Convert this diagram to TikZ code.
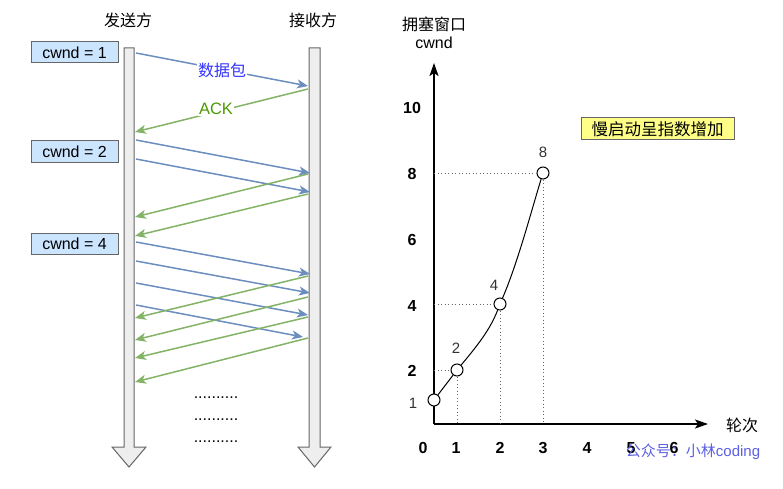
\documentclass[tikz,border=0pt]{standalone}
\usepackage{fontspec}
\setmainfont{Liberation Sans}
\newfontfamily\cjk{Noto Sans CJK SC}
\usetikzlibrary{arrows.meta}
\definecolor{msgblue}{HTML}{6C8EBF}
\definecolor{ackgreen}{HTML}{82B366}
\definecolor{boxblue}{HTML}{CCE5FF}
\definecolor{labelblue}{HTML}{3333FF}
\definecolor{labelgreen}{HTML}{4D9900}
\definecolor{noteyellow}{HTML}{FFFF88}
\definecolor{wmblue}{HTML}{5B5FE0}
\definecolor{lineshaft}{HTML}{EEEEEE}
\definecolor{lineedge}{HTML}{666666}
\tikzset{
  txt/.style={inner sep=0pt, font=\fontsize{16}{19}\selectfont},
  cjktxt/.style={inner sep=0pt, font=\fontsize{16}{19}\selectfont\cjk},
  cwndbox/.style={draw=lineedge, fill=boxblue, line width=1pt, minimum width=87pt, minimum height=21pt, inner sep=0pt, font=\fontsize{16}{19}\selectfont},
  lifeline/.style={fill=lineshaft, draw=lineedge, line width=1pt, line join=miter},
  datamsg/.style={draw=msgblue, line width=1.5pt, -{Stealth[length=11pt,width=9pt,inset=3pt]}},
  ackmsg/.style={draw=ackgreen, line width=1.5pt, -{Stealth[length=11pt,width=9pt,inset=3pt]}},
  axisline/.style={line width=2pt, -{Stealth[length=13pt,width=9pt,inset=3pt]}},
  guide/.style={draw=lineedge, line width=0.8pt, dash pattern=on 1pt off 2.5pt},
  ptcircle/.style={circle, draw, fill=white, line width=1pt, minimum size=12pt, inner sep=0pt},
  ticknum/.style={inner sep=0pt, font=\fontsize{16}{19}\selectfont\bfseries},
  ptlabel/.style={inner sep=0pt, font=\fontsize{15}{18}\selectfont, text=black!80},
}
\begin{document}
\begin{tikzpicture}[x=1pt,y=-1pt]
\useasboundingbox (0,0) rectangle (783,489);
% ---------- titles ----------
\node[cjktxt] (sendT) at (128,20) {发送方};
\node[cjktxt] (recvT) at (313,20) {接收方};
% ---------- lifelines ----------
\path[lifeline] (124,48) -- (134,48) -- (134,447) -- (146,447) -- (129,467) -- (112,447) -- (124,447) -- cycle;
\path[lifeline] (309,48) -- (320,48) -- (320,447) -- (331,447) -- (314.5,467) -- (298,447) -- (309,447) -- cycle;
% ---------- cwnd boxes ----------
\node[cwndbox] (c1) at (74.5,52.5) {cwnd = 1};
\node[cwndbox] (c2) at (74.5,151.5) {cwnd = 2};
\node[cwndbox] (c4) at (74.5,244) {cwnd = 4};
% ---------- endpoints ----------
\foreach \n/\x/\y in {
  a1/136/53, b1/308/86,
  a2/308/89, b2/135/132,
  a3/136/140, b3/310/173,
  a4/136/159, b4/310/192,
  a5/308/174, b5/135/217,
  a6/308/194, b6/135/236,
  a7/136/242, b7/310/274,
  a8/136/261, b8/310/293,
  a9/136/283, b9/308/315,
  a10/136/305, b10/303/337,
  a11/308/276, b11/135/318,
  a12/308/297, b12/135/340,
  a13/308/317, b13/135/358,
  a14/308/338, b14/135/382}
  {\coordinate (\n) at (\x,\y);}
% ---------- messages ----------
\draw[datamsg] (a1) -- (b1);
\node[cjktxt, text=labelblue, fill=white, inner sep=1pt] (dataL) at (222,70) {数据包};
\draw[ackmsg] (a2) -- (b2);
\node[txt, text=labelgreen, fill=white, inner sep=1pt, font=\fontsize{16.5}{19}\selectfont] (ackL) at (216,109) {ACK};
\draw[datamsg] (a3) -- (b3);
\draw[datamsg] (a4) -- (b4);
\draw[ackmsg] (a5) -- (b5);
\draw[ackmsg] (a6) -- (b6);
\draw[datamsg] (a7) -- (b7);
\draw[datamsg] (a8) -- (b8);
\draw[datamsg] (a9) -- (b9);
\draw[datamsg] (a10) -- (b10);
\draw[ackmsg] (a11) -- (b11);
\draw[ackmsg] (a12) -- (b12);
\draw[ackmsg] (a13) -- (b13);
\draw[ackmsg] (a14) -- (b14);
% ---------- continuation dots ----------
\node[txt, anchor=base] (dots1) at (216,398) {..........};
\node[txt, anchor=base] (dots2) at (216,420) {..........};
\node[txt, anchor=base] (dots3) at (216,442) {..........};
% ---------- chart ----------
\coordinate (O) at (434,424);
\coordinate (ytip) at (434,63);
\coordinate (xtip) at (708,424);
\draw[axisline] (O) -- (ytip);
\draw[axisline] (O) -- (xtip);
\node[cjktxt] (ytitle) at (434,24) {拥塞窗口};
\node[txt] (ytitle2) at (434,43) {cwnd};
\node[cjktxt] (xtitle) at (742,425) {轮次};
% y tick labels
\node[ticknum] (y10) at (412,108) {10};
\node[ticknum] (y8) at (412,174) {8};
\node[ticknum] (y6) at (412,240) {6};
\node[ticknum] (y4) at (412,306) {4};
\node[ticknum] (y2) at (412,371) {2};
% x tick labels
\foreach \v/\x in {0/423,1/456,2/500,3/543,4/587,5/631,6/674}
  {\node[ticknum] (x\v) at (\x,448) {\v};}
% guide lines
\coordinate (g2y) at (434,370);
\coordinate (g4y) at (434,304);
\coordinate (g8y) at (434,173);
\coordinate (g1x) at (457,424);
\coordinate (g2x) at (500,424);
\coordinate (g3x) at (543,424);
% points
\node[ptcircle] (p1) at (434,400) {};
\node[ptcircle] (p2) at (457,370) {};
\node[ptcircle] (p4) at (500,304) {};
\node[ptcircle] (p8) at (543,173) {};
\draw[guide] (g2y) -- (p2.west);
\draw[guide] (g4y) -- (p4.west);
\draw[guide] (g8y) -- (p8.west);
\draw[guide] (p2.south) -- (g1x);
\draw[guide] (p4.south) -- (g2x);
\draw[guide] (p8.south) -- (g3x);
\draw[line width=1pt] (p1) -- (p2);
\draw[line width=1pt] (p2) .. controls (477,346) and (490,330) .. (p4);
\draw[line width=1pt] (p4) .. controls (518,262) and (531,212) .. (p8);
\node[ptlabel] (l1) at (413,403) {1};
\node[ptlabel] (l2) at (456,348) {2};
\node[ptlabel] (l4) at (494,285) {4};
\node[ptlabel] (l8) at (543,152) {8};
% note
\node[draw=lineedge, fill=noteyellow, line width=1pt, minimum width=153pt, minimum height=22pt, inner sep=0pt, font=\fontsize{16.5}{19}\selectfont\cjk] (note) at (657.5,129) {慢启动呈指数增加};
% watermark
\node[inner sep=0pt, text=wmblue, font=\fontsize{15}{18}\selectfont] (wm) at (693,452) {{\cjk 公众号：小林}coding};
\end{tikzpicture}
\end{document}
